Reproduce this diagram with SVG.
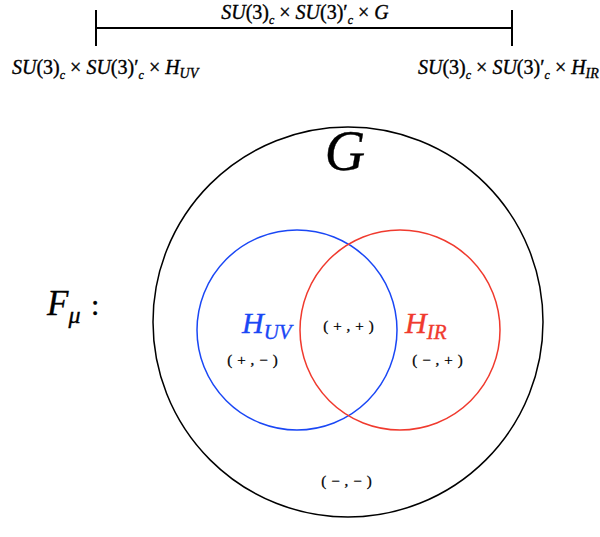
<svg xmlns="http://www.w3.org/2000/svg" width="600" height="537" viewBox="0 0 600 537">
<style>
.m{font-family:"Liberation Serif","Times New Roman",serif;font-style:italic;fill:#000;stroke:#000;stroke-width:0.35}
.u{font-family:"Liberation Serif","Times New Roman",serif;font-style:normal}
.s{font-family:"Liberation Serif","Times New Roman",serif;font-size:15px;fill:#000;letter-spacing:5px;stroke:#000;stroke-width:0.3}
</style>
<rect width="600" height="537" fill="#fff"/>
<g id="connectors" stroke="#000" stroke-width="2" fill="none">
<line x1="96" y1="28" x2="512" y2="28"/>
<line x1="96" y1="10" x2="96" y2="46"/>
<line x1="512" y1="10" x2="512" y2="46"/>
</g>
<g id="label-top"><text x="305" y="19" text-anchor="middle" class="m" font-size="20">SU<tspan class="u">(3)</tspan><tspan font-size="12" dy="5">c</tspan><tspan dy="-5" class="u"> × </tspan>SU<tspan class="u">(3)′</tspan><tspan font-size="12" dy="5">c</tspan><tspan dy="-5" class="u"> × </tspan>G</text></g>
<g id="label-left"><text x="12" y="74" class="m" font-size="20">SU<tspan class="u">(3)</tspan><tspan font-size="12" dy="5">c</tspan><tspan dy="-5" class="u"> × </tspan>SU<tspan class="u">(3)′</tspan><tspan font-size="12" dy="5">c</tspan><tspan dy="-5" class="u"> × </tspan>H<tspan font-size="14" dy="4">UV</tspan></text></g>
<g id="label-right"><text x="418" y="74" class="m" font-size="20">SU<tspan class="u">(3)</tspan><tspan font-size="12" dy="5">c</tspan><tspan dy="-5" class="u"> × </tspan>SU<tspan class="u">(3)′</tspan><tspan font-size="12" dy="5">c</tspan><tspan dy="-5" class="u"> × </tspan>H<tspan font-size="14" dy="4">IR</tspan></text></g>
<g id="G"><circle cx="348" cy="322" r="195" fill="none" stroke="#000" stroke-width="1.5"/>
<text x="345" y="170" text-anchor="middle" class="m" font-size="56">G</text></g>
<g id="HUV"><circle cx="297" cy="330" r="100" fill="none" stroke="#1a47f5" stroke-width="1.5"/>
<text x="242" y="333" class="m" font-size="30" style="fill:#1a47f5;stroke:#1a47f5">H<tspan font-size="21" dy="6">UV</tspan></text></g>
<g id="HIR"><circle cx="400" cy="330" r="100" fill="none" stroke="#f03a2e" stroke-width="1.5"/>
<text x="405" y="333" class="m" font-size="30" style="fill:#f03a2e;stroke:#f03a2e">H<tspan font-size="21" dy="6">IR</tspan></text></g>
<g id="Fmu"><text x="47" y="315" class="m" font-size="35">F<tspan font-size="24" dy="8">μ</tspan></text><text x="91" y="315" class="m u" font-size="30">:</text></g>
<g id="regions">
<text x="351" y="331" text-anchor="middle" class="s">(+,+)</text>
<text x="255" y="365" text-anchor="middle" class="s">(+,−)</text>
<text x="440" y="365" text-anchor="middle" class="s">(−,+)</text>
<text x="349" y="486" text-anchor="middle" class="s">(−,−)</text>
</g>
</svg>
